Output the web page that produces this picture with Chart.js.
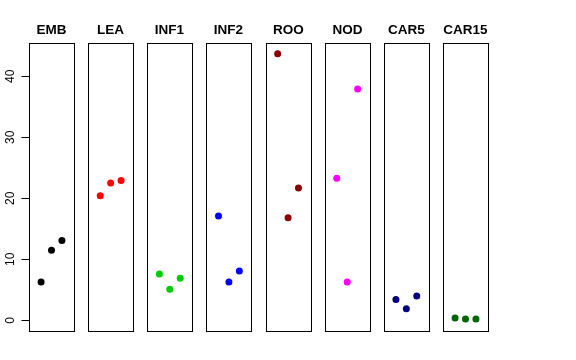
<!DOCTYPE html>
<html>
<head>
<meta charset="utf-8">
<script src="https://cdn.jsdelivr.net/npm/chart.js@4/dist/chart.umd.min.js"></script>
<style>
html,body{margin:0;padding:0;background:#fff;}
#wrap{width:576px;height:360px;}
</style>
</head>
<body>
<div id="wrap"><canvas id="c" width="576" height="360"></canvas></div>
<script>
// groups and their three replicate values
const groups=["EMB","LEA","INF1","INF2","ROO","NOD","CAR5","CAR15"];
const EMB=[6.3,11.5,13.1];
const LEA=[20.4,22.5,22.9];
const INF1=[7.6,5.1,6.9];
const INF2=[17.1,6.3,8.1];
const ROO=[43.7,16.8,21.7];
const NOD=[23.3,6.3,37.9];
const CAR5=[3.4,1.9,4.0];
const CAR15=[0.38,0.22,0.22];
const yTicks=[0,10,20,30,40];

const values=[EMB,LEA,INF1,INF2,ROO,NOD,CAR5,CAR15];
const colors=["#000000","#ff0000","#00cd00","#0000ff","#8b0000","#ff00ff","#000080","#006400"];

// each panel spans local x -0.16..4.16, points at 1,2,3
const pitch=5.676;
const lo=-0.16, hi=4.16;

const datasets=values.map((vals,i)=>({
label:groups[i],
data:vals.map((v,j)=>({x:i*pitch+j+1,y:v})),
backgroundColor:colors[i],
borderColor:colors[i],
pointRadius:3.5,
pointHoverRadius:3.5,
borderWidth:0,
showLine:false
}));

const panels={
id:"panels",
afterDatasetsDraw(chart){
const ctx=chart.ctx, xs=chart.scales.x, ys=chart.scales.y, a=chart.chartArea;
ctx.save();
ctx.strokeStyle="#000";
ctx.lineWidth=1;
groups.forEach((g,i)=>{
const l=Math.round(xs.getPixelForValue(i*pitch+lo));
const r=Math.round(xs.getPixelForValue(i*pitch+hi));
ctx.strokeRect(l+0.5,a.top+0.5,r-l,a.bottom-a.top);
ctx.fillStyle="#000";
ctx.font="bold 13.5px 'Liberation Sans', Arial, sans-serif";
ctx.textAlign="center";
ctx.textBaseline="alphabetic";
ctx.fillText(g,(l+r)/2,34);
});
// y axis
const x0=Math.round(xs.getPixelForValue(lo))+0.5;
ctx.beginPath();
ctx.moveTo(x0,ys.getPixelForValue(yTicks[0]));
ctx.lineTo(x0,ys.getPixelForValue(yTicks[yTicks.length-1]));
yTicks.forEach(t=>{
const y=Math.round(ys.getPixelForValue(t))+0.5;
ctx.moveTo(x0,y);
ctx.lineTo(x0-8,y);
});
ctx.stroke();
ctx.font="12px 'Liberation Sans', Arial, sans-serif";
yTicks.forEach(t=>{
const y=ys.getPixelForValue(t);
ctx.save();
ctx.translate(13.5,y);
ctx.rotate(-Math.PI/2);
ctx.textAlign="center";
ctx.textBaseline="alphabetic";
ctx.fillText(String(t),0,0);
ctx.restore();
});
ctx.restore();
}
};

new Chart(document.getElementById("c"),{
type:"scatter",
data:{datasets:datasets},
options:{
responsive:false,
animation:false,
layout:{padding:{left:29,right:88,top:43,bottom:29}},
plugins:{legend:{display:false},tooltip:{enabled:false}},
scales:{
x:{type:"linear",display:false,min:lo,max:7*pitch+hi},
y:{type:"linear",display:false,min:-1.75,max:45.45}
}
},
plugins:[panels]
});
</script>
</body>
</html>
